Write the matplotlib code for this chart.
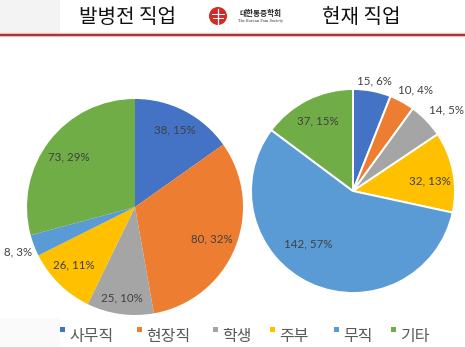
import numpy as np
import matplotlib
matplotlib.use("Agg")
import matplotlib.pyplot as plt
from matplotlib.patches import Rectangle, Circle

# Occupation categories and their colours
categories = ["사무직", "현장직", "학생", "주부", "무직", "기타"]
colors = ["#4472C4", "#ED7D31", "#A5A5A5", "#FFC000", "#5B9BD5", "#70AD47"]

# Occupation before onset
before_counts = [38, 80, 25, 26, 8, 73]
before_pcts = [15, 32, 10, 11, 3, 29]

# Current occupation
current_counts = [15, 10, 14, 32, 142, 37]
current_pcts = [6, 4, 5, 13, 57, 15]

titles = ["발병전 직업", "현재 직업"]

W, H = 465, 347
DPI = 100
fig = plt.figure(figsize=(W / DPI, H / DPI), dpi=DPI)
fig.patch.set_facecolor("white")

LABEL_FONT = ["Lato", "DejaVu Sans"]
KR_FONT = ["Noto Sans CJK KR", "DejaVu Sans"]


def px_axes(left, top, width, height):
    """Axes placed by pixel box (origin top-left)."""
    return fig.add_axes([left / W, 1 - (top + height) / H, width / W, height / H])


def draw_pie(ax, counts, pcts, edge, dists, shifts):
    wedges, _ = ax.pie(counts, colors=colors, startangle=90, counterclock=False,
                       radius=1.0,
                       wedgeprops=dict(edgecolor=edge, linewidth=1.4 if edge else 0))
    total = float(sum(counts))
    cum = 0.0
    for v, p, d, s in zip(counts, pcts, dists, shifts):
        mid = np.deg2rad(90 - 360 * (cum + v / 2) / total + s)
        ax.text(d * np.cos(mid), d * np.sin(mid), f"{v}, {p}%",
                ha="center", va="center", fontsize=8.3, color="#404040",
                family=LABEL_FONT)
        cum += v
    ax.set_aspect("auto")
    ax.axis("off")


# Left pie: centre (135, 207), radius 108 px
R1, cx1, cy1 = 108, 135, 207
ax1 = px_axes(cx1 - R1, cy1 - R1, 2 * R1, 2 * R1)
draw_pie(ax1, before_counts, before_pcts, None,
         [0.80, 0.77, 0.85, 0.78, 1.16, 0.77],
         [0, 0, 0, -2, 0, 0])
ax1.set_xlim(-1, 1)
ax1.set_ylim(-1, 1)

# Right pie: centre (353, 191), radius 102 px, clipped at the panel's left edge
R2, cx2, cy2 = 102, 353, 191
x0, x1, y0, y1 = 255, 465, 70, 300
ax2 = px_axes(x0, y0, x1 - x0, y1 - y0)
draw_pie(ax2, current_counts, current_pcts, "white",
         [1.10, 1.17, 1.21, 0.76, 0.68, 0.77],
         [0, -3, -3, -3, -16, 0])
ax2.set_xlim((x0 - cx2) / R2, (x1 - cx2) / R2)
ax2.set_ylim((cy2 - y1) / R2, (cy2 - y0) / R2)

# Header band
hdr = fig.add_axes([0, 0, 1, 1], zorder=-1)
hdr.set_xlim(0, W)
hdr.set_ylim(H, 0)
hdr.axis("off")
hdr.add_patch(Rectangle((0, 0), 60, 33, color="#f3f3f3", lw=0))
hdr.add_patch(Rectangle((0, 318), 60, 29, color="#fafafa", lw=0))

top = fig.add_axes([0, 0, 1, 1], zorder=5)
top.set_xlim(0, W)
top.set_ylim(H, 0)
top.axis("off")
top.plot([0, W], [34.5, 34.5], color="#f0b8b8", lw=3.0, solid_capstyle="butt")
top.plot([0, W], [34.5, 34.5], color="#9b1c1c", lw=1.2, solid_capstyle="butt")

top.text(127, 17, titles[0], ha="center", va="center", fontsize=14.5,
         color="#111111", family=KR_FONT, weight="light")
top.text(361, 17, titles[1], ha="center", va="center", fontsize=14.5,
         color="#111111", family=KR_FONT, weight="light")

# Society emblem
top.add_patch(Circle((218, 16), 9, color="#d42a25", lw=0))
top.plot([218, 218], [9, 24], color="white", lw=0.9)
top.plot([212, 224], [14, 14], color="white", lw=0.7)
top.plot([213, 223], [18, 18], color="white", lw=0.7)
top.text(260, 13.5, "대한통증학회", ha="center", va="center", fontsize=5.5,
         color="#222222", family=KR_FONT, weight="bold")
top.text(260, 20.5, "The Korean Pain Society", ha="center", va="center",
         fontsize=2.6, color="#333333", family=["DejaVu Serif"])

# Legend row
sq_x = [60, 137, 213, 270, 334, 391]
for c, col, xs in zip(categories, colors, sq_x):
    top.add_patch(Rectangle((xs, 327), 5, 5, color=col, lw=0))
    top.text(xs + 9, 336, c, ha="left", va="center", fontsize=11.5,
             color="#595959", family=KR_FONT)

fig.savefig("out.png", dpi=DPI)
